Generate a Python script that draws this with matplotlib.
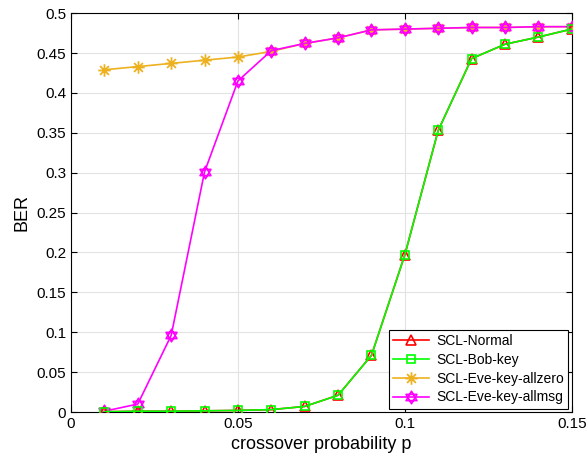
import numpy as np
import matplotlib.pyplot as plt
from matplotlib.path import Path

p = [0.01, 0.02, 0.03, 0.04, 0.05, 0.06, 0.07, 0.08,
     0.09, 0.10, 0.11, 0.12, 0.13, 0.14, 0.15]

ber_normal = [0.0003, 0.001, 0.001, 0.0015, 0.002, 0.003, 0.007, 0.021,
              0.071, 0.197, 0.353, 0.443, 0.461, 0.470, 0.480]
ber_bob = [0.0003, 0.001, 0.001, 0.0015, 0.002, 0.003, 0.007, 0.021,
           0.071, 0.197, 0.353, 0.443, 0.461, 0.470, 0.480]
ber_eve_zero = [0.429, 0.433, 0.437, 0.441, 0.445, 0.452, 0.462, 0.469,
                0.479, 0.480, 0.481, 0.482, 0.482, 0.483, 0.483]
ber_eve_msg = [0.001, 0.010, 0.096, 0.301, 0.415, 0.453, 0.462, 0.469,
               0.479, 0.480, 0.481, 0.482, 0.482, 0.483, 0.483]

# hexagram marker (two overlapping triangles)
ang_up = np.deg2rad([90, 210, 330, 90])
ang_dn = np.deg2rad([270, 30, 150, 270])
verts = list(zip(np.cos(ang_up), np.sin(ang_up))) + list(zip(np.cos(ang_dn), np.sin(ang_dn)))
codes = [Path.MOVETO, Path.LINETO, Path.LINETO, Path.CLOSEPOLY] * 2
hexagram = Path(verts, codes)

# matlab-style asterisk (+ and x overlaid, lines only)
d = 0.707
ast_verts = [(-1, 0), (1, 0), (0, -1), (0, 1), (-d, -d), (d, d), (-d, d), (d, -d)]
ast_codes = [Path.MOVETO, Path.LINETO] * 4
asterisk = Path(ast_verts, ast_codes)

plt.rcParams['font.family'] = ['Liberation Sans', 'DejaVu Sans']

fig = plt.figure(figsize=(5.87, 4.69), dpi=100)
ax = fig.add_axes([0.121, 0.1215, 0.853, 0.8505])

ax.plot(p, ber_eve_zero, color='#EDB120', marker=asterisk, markersize=9,
        markerfacecolor='none', markeredgewidth=1.3,
        linewidth=1.2, label='SCL-Eve-key-allzero', zorder=3)
ax.plot(p, ber_eve_msg, color='#FF00FF', marker=hexagram, markersize=9,
        markerfacecolor='none', markeredgewidth=1.2, linewidth=1.2,
        label='SCL-Eve-key-allmsg', zorder=4)
ax.plot(p, ber_normal, color='#FF0000', marker='^', markersize=7,
        markerfacecolor='none', markeredgewidth=1.2, linewidth=1.2,
        label='SCL-Normal', zorder=5)
ax.plot(p, ber_bob, color='#00FF00', marker='s', markersize=6,
        markerfacecolor='none', markeredgewidth=1.2, linewidth=1.2,
        label='SCL-Bob-key', zorder=6)

ax.set_xlim(0, 0.15)
ax.set_ylim(0, 0.5)
ax.set_xticks([0, 0.05, 0.1, 0.15])
ax.set_xticklabels(['0', '0.05', '0.1', '0.15'])
ax.set_yticks(np.arange(0, 0.51, 0.05))
ax.set_yticklabels(['0', '0.05', '0.1', '0.15', '0.2', '0.25', '0.3',
                    '0.35', '0.4', '0.45', '0.5'])
ax.grid(True, color='#e3e3e3', linewidth=0.8)
ax.set_axisbelow(True)
ax.tick_params(direction='in', labelsize=11, top=True, right=True, length=4)
for s in ax.spines.values():
    s.set_linewidth(0.8)

ax.set_xlabel('crossover probability p', fontsize=13)
ax.set_ylabel('BER', fontsize=13)

h, l = ax.get_legend_handles_labels()
order = [2, 3, 0, 1]
leg = ax.legend([h[i] for i in order], [l[i] for i in order], loc='lower right',
                fontsize=10, fancybox=False, edgecolor='black', framealpha=1,
                borderpad=0.3, labelspacing=0.35, handlelength=2.6,
                handletextpad=0.5, borderaxespad=0.25)
leg.get_frame().set_linewidth(0.8)

fig.savefig('out.png', dpi=100)
